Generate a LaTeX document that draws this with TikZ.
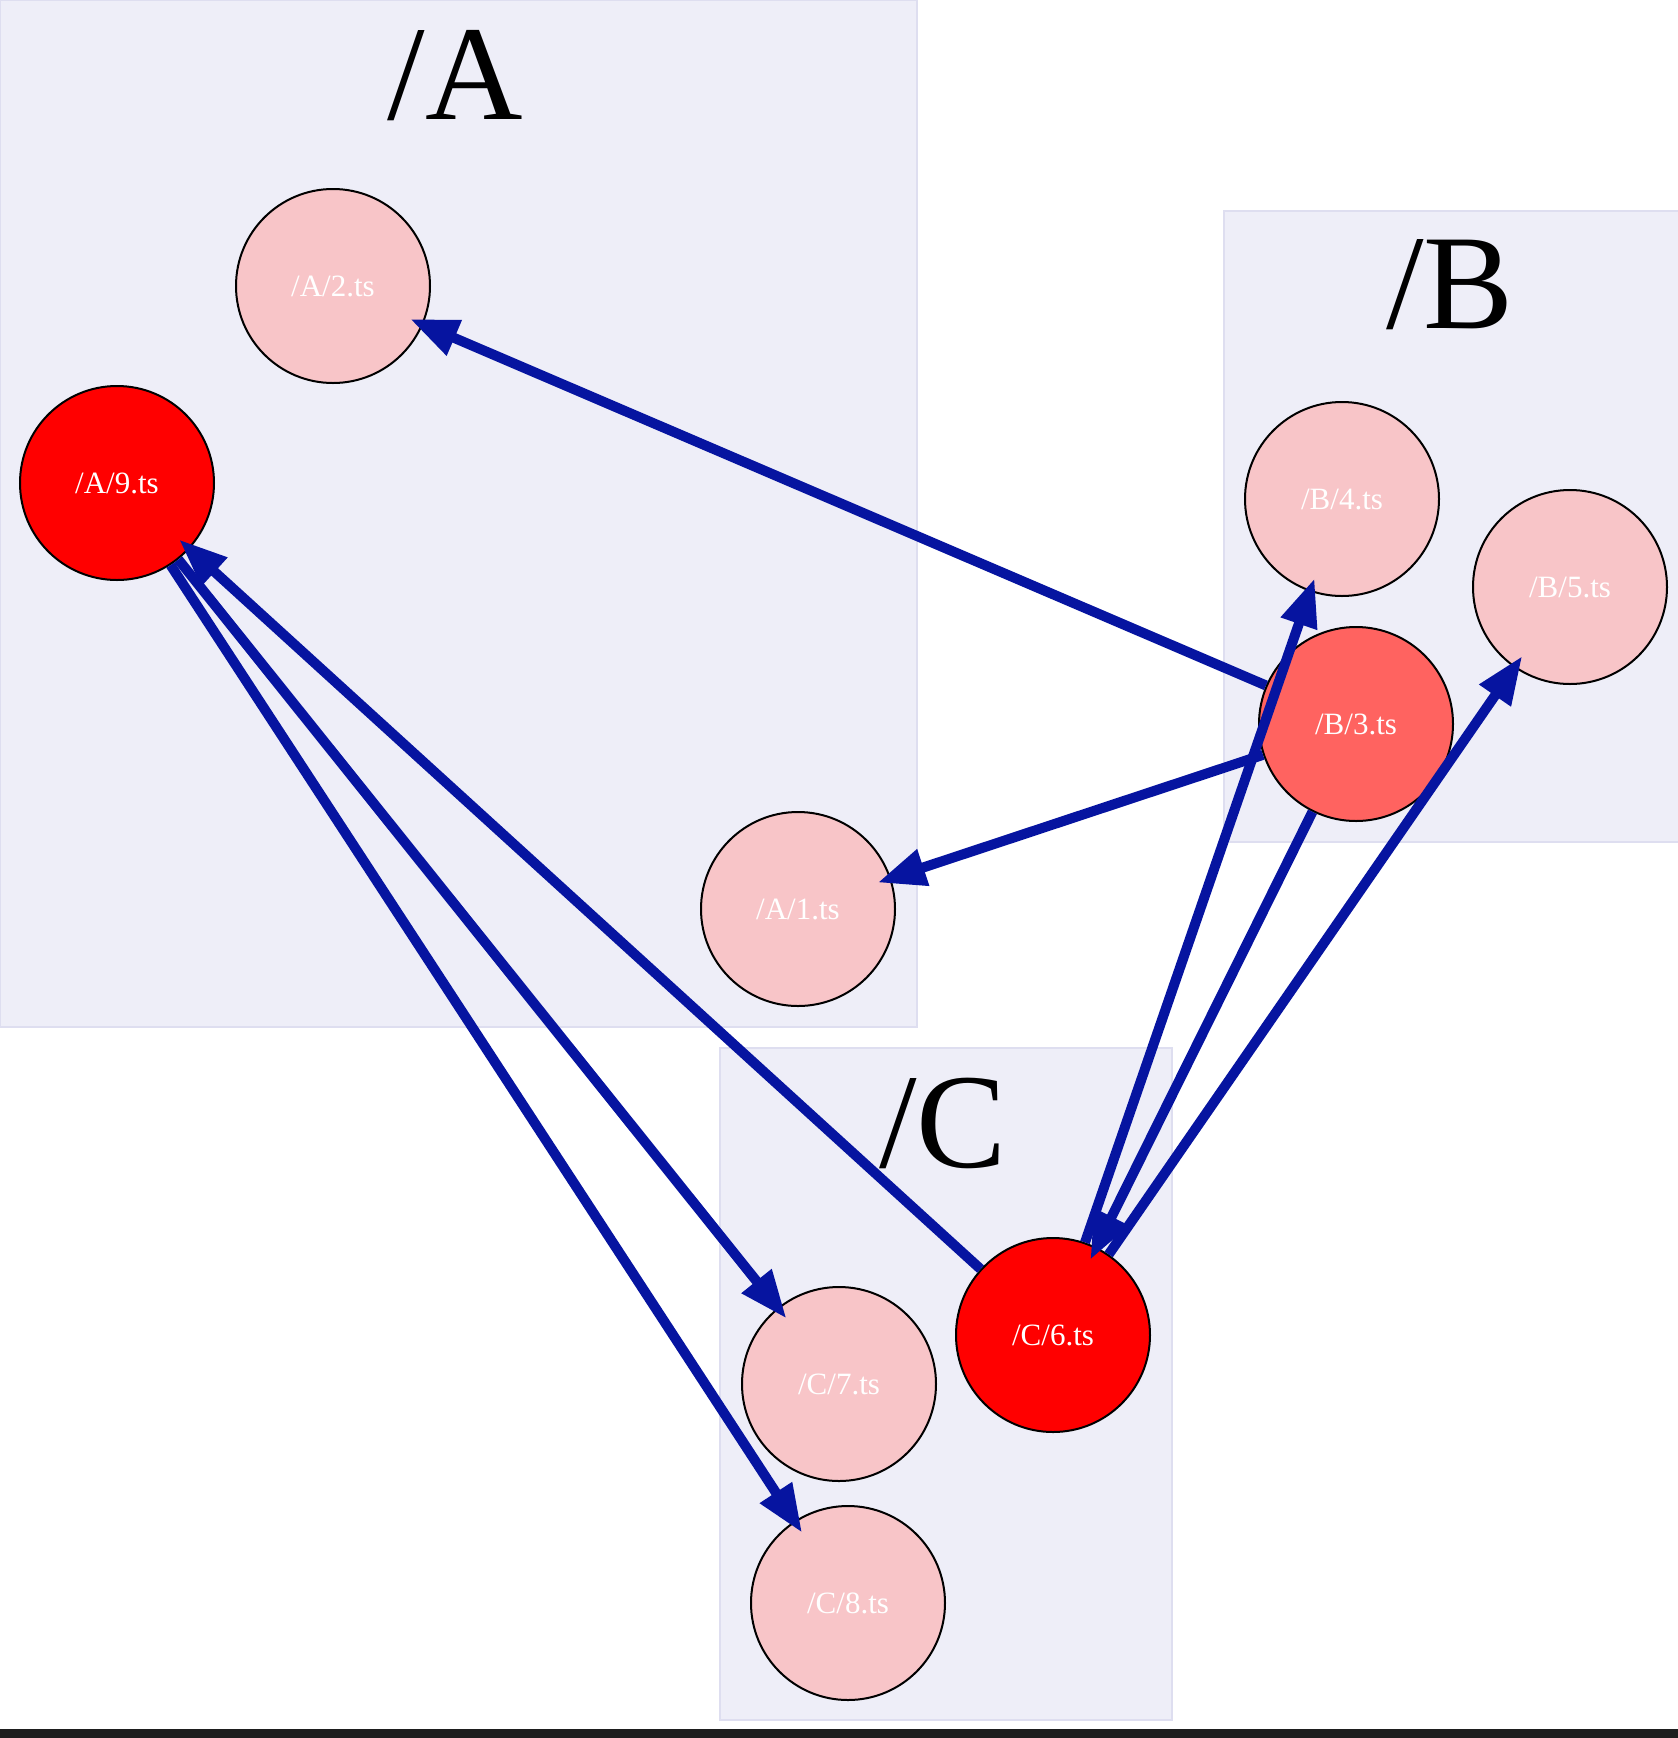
\documentclass[tikz,border=0pt]{standalone}
\usepackage{fontspec}
\setmainfont{Liberation Serif}
\usetikzlibrary{arrows.meta}
\definecolor{clfill}{HTML}{EEEEF8}
\definecolor{cldraw}{HTML}{DEDEF0}
\definecolor{pale}{HTML}{F8C5C8}
\definecolor{hot}{HTML}{FF0000}
\definecolor{warm}{HTML}{FF6360}
\definecolor{edgeblue}{HTML}{0614A0}
\definecolor{barc}{HTML}{1E1E1E}
\tikzset{
  cluster/.style={fill=clfill, draw=cldraw, line width=1.5pt},
  cltitle/.style={font=\fontsize{135}{135}\selectfont, anchor=base, inner sep=0pt},
  fnode/.style={circle, draw=black, line width=2pt, minimum size=194pt, inner sep=0pt,
    text=white, font=\fontsize{31}{31}\selectfont},
  palenode/.style={fnode, fill=pale},
  hotnode/.style={fnode, fill=hot},
  warmnode/.style={fnode, fill=warm},
  dep/.style={draw=edgeblue, line width=10pt, shorten >=-14pt,
    -{Triangle[length=48pt,width=36pt]}}
}
\begin{document}
\begin{tikzpicture}[x=1pt, y=-1pt]
\useasboundingbox (0,0) rectangle (1678,1738);
\fill[white] (0,0) rectangle (1678,1738);
\fill[barc] (0,1729) rectangle (1678,1738);
% clusters
\draw[cluster] (0,0) rectangle (917,1027);
\draw[cluster] (1224,211) rectangle (1679,842);
\draw[cluster] (720,1048) rectangle (1172,1720);
\node[cltitle] (tA) at (455,119) {/A};
\node[cltitle] (tB) at (1450,328) {/B};
\node[cltitle] (tC) at (943,1167) {/C};
% nodes
\node[palenode] (a2) at (333,286) {/A/2.ts};
\node[hotnode]  (a9) at (117,483) {/A/9.ts};
\node[palenode] (a1) at (798,909) {/A/1.ts};
\node[palenode] (b4) at (1342,499) {/B/4.ts};
\node[palenode] (b5) at (1570,587) {/B/5.ts};
\node[warmnode] (b3) at (1356,724) {/B/3.ts};
\node[hotnode]  (c6) at (1053,1335) {/C/6.ts};
\node[palenode] (c7) at (839,1384) {/C/7.ts};
\node[palenode] (c8) at (848,1603) {/C/8.ts};
% edges
\draw[dep] (b3) -- (a2);
\draw[dep] (b3) -- (a1);
\draw[dep] (b3) -- (c6);
\draw[dep] (c6) -- (b4);
\draw[dep] (c6) -- (b5);
\draw[dep] (c6) -- (a9);
\draw[dep] (a9) -- (c7);
\draw[dep] (a9) -- (c8);
\end{tikzpicture}
\end{document}
